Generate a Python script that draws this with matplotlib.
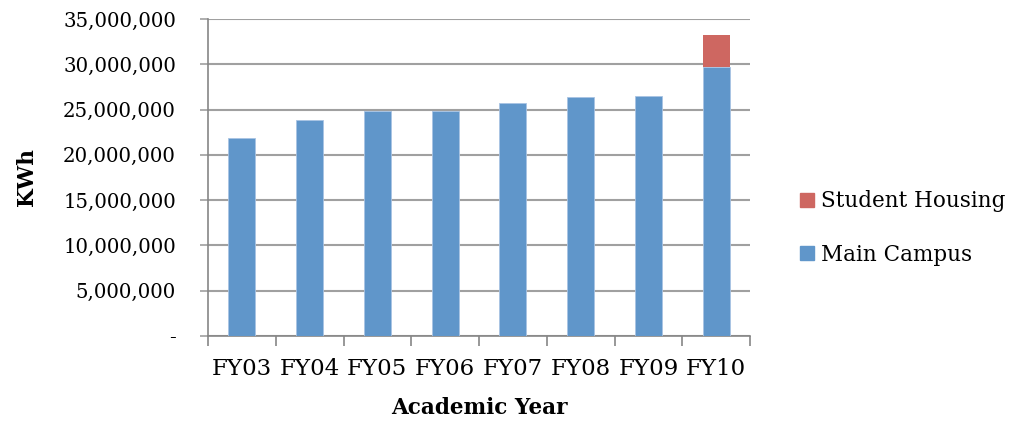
import matplotlib.pyplot as plt
from matplotlib.patches import Patch
from matplotlib.ticker import FuncFormatter, FixedLocator

years = ['FY03', 'FY04', 'FY05', 'FY06', 'FY07', 'FY08', 'FY09', 'FY10']
main_campus = [21900000, 23900000, 24800000, 24800000, 25700000, 26400000, 26500000, 29700000]
student_housing = [0, 0, 0, 0, 0, 0, 0, 3500000]

blue = '#6096CA'
red = '#CE6761'
grey = '#A0A0A0'

plt.rcParams['font.family'] = ['DejaVu Serif']

fig = plt.figure(figsize=(10.12, 4.25), dpi=100)
ax = fig.add_axes([208 / 1012, 1 - 336 / 425, 542 / 1012, 317 / 425])

x = list(range(len(years)))
ax.bar(x, main_campus, width=0.4, color=blue, edgecolor='#A8C3E3', linewidth=0.6, zorder=3)
ax.bar(x, student_housing, width=0.4, bottom=main_campus, color=red, zorder=3)

ax.set_xlim(-0.5, len(years) - 0.5)
ax.set_ylim(0, 35000000)
ax.set_yticks(range(0, 35000001, 5000000))
ax.yaxis.set_major_formatter(FuncFormatter(lambda v, p: '-' if v == 0 else f'{int(v):,}'))
ax.yaxis.grid(True, color=grey, linewidth=1.5, zorder=0)

ax.set_xticks(x)
ax.set_xticklabels(years)
ax.xaxis.set_minor_locator(FixedLocator([i - 0.5 for i in range(len(years) + 1)]))
ax.tick_params(axis='x', which='major', length=0, pad=16, labelsize=16.5)
ax.tick_params(axis='x', which='minor', length=7, width=1.2, color='#868686', direction='out')
ax.tick_params(axis='y', length=6, width=1.2, color=grey, pad=17, labelsize=14.2)

for side in ['top', 'right']:
    ax.spines[side].set_visible(False)
ax.spines['left'].set_color('#868686')
ax.spines['bottom'].set_color('#868686')
ax.spines['left'].set_linewidth(1.2)
ax.spines['bottom'].set_linewidth(1.2)

ax.set_ylabel('KWh', fontsize=15.5, fontweight='bold', labelpad=18)
ax.set_xlabel('Academic Year', fontsize=15.5, fontweight='bold', labelpad=12)

handles = [Patch(color=red, label='Student Housing'), Patch(color=blue, label='Main Campus')]
fig.legend(handles=handles, loc='center left', bbox_to_anchor=(781 / 1012, 1 - 228 / 425),
           frameon=False, fontsize=15.5, handlelength=0.65, handleheight=0.65,
           handletextpad=0.3, labelspacing=1.45)

fig.savefig('out.png', dpi=100)
